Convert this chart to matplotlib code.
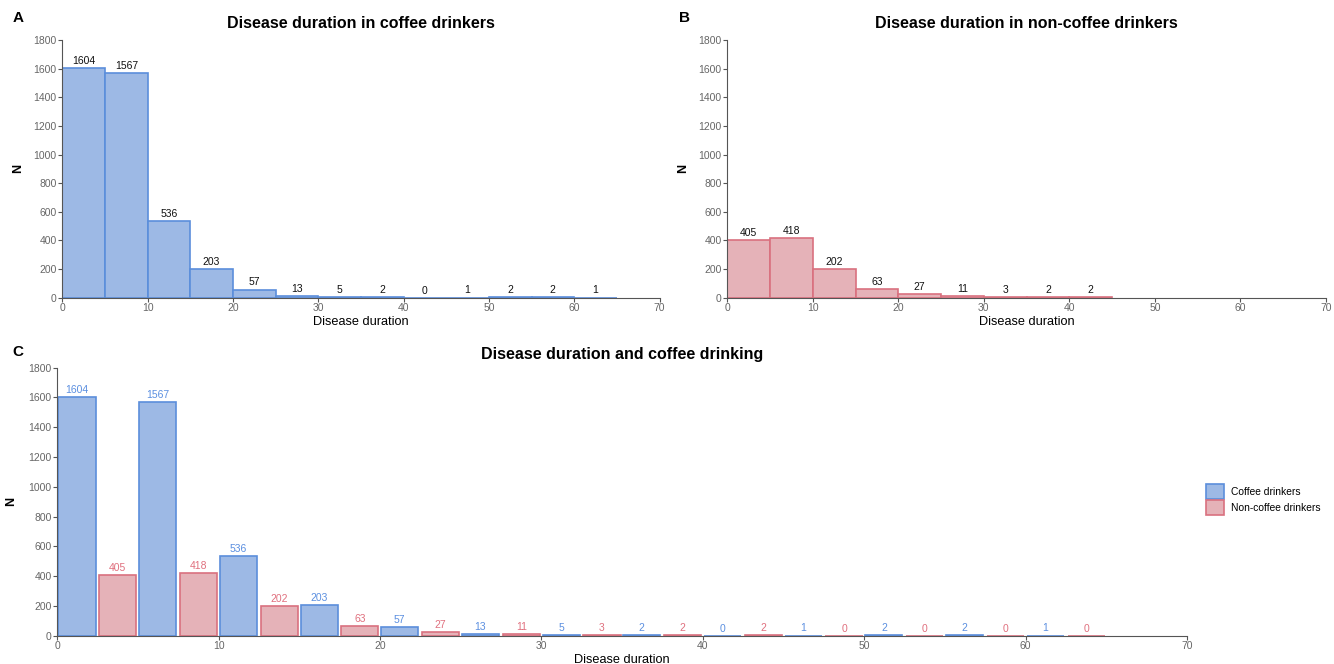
import numpy as np
import matplotlib
matplotlib.use("Agg")
import matplotlib.pyplot as plt
from matplotlib.patches import Patch

plt.rcParams['font.family'] = ['Liberation Sans', 'DejaVu Sans']

# binned counts, bin width 5 years
bin_starts = [0, 5, 10, 15, 20, 25, 30, 35, 40, 45, 50, 55, 60]
coffee = [1604, 1567, 536, 203, 57, 13, 5, 2, 0, 1, 2, 2, 1]
non_coffee = [405, 418, 202, 63, 27, 11, 3, 2, 2, 0, 0, 0, 0]
non_coffee_bins = 9  # data only reaches the 40-45 bin

BLUE_FILL = '#9db9e5'
BLUE_EDGE = '#5b8edb'
RED_FILL = '#e5b2b8'
RED_EDGE = '#d9717f'
BLUE_TXT = '#5b8fe0'
RED_TXT = '#e0707e'

TICK_FS = 7.5
VAL_FS = 7.5


def style_axes(ax, ypad=6):
    for s in ['top', 'right']:
        ax.spines[s].set_visible(False)
    for s in ['left', 'bottom']:
        ax.spines[s].set_color('#555555')
        ax.spines[s].set_linewidth(0.8)
    ax.set_xlim(0, 70)
    ax.set_ylim(0, 1800)
    ax.set_xticks(range(0, 71, 10))
    ax.set_yticks(range(0, 1801, 200))
    ax.tick_params(axis='both', labelsize=TICK_FS, colors='#555555', labelcolor='#666666',
                   length=3, width=0.8, pad=1)
    ax.set_xlabel('Disease duration', fontsize=9.2, labelpad=2)
    ax.set_ylabel('N', fontsize=9, fontweight='bold', labelpad=ypad)


fig = plt.figure(figsize=(13.34, 6.64), dpi=100)
W, H = 1334, 664


def axes_px(l, r, t, b):
    return fig.add_axes([l / W, 1 - b / H, (r - l) / W, (b - t) / H])


def hist_panel(ax, starts, counts, fill, edge, title):
    bars = ax.bar(starts, counts, width=5, align='edge', color=fill, edgecolor=edge,
                  linewidth=1.2, zorder=2)
    for b, v in zip(bars, counts):
        ax.annotate(str(v), (b.get_x() + b.get_width() / 2, v), xytext=(0, 1.5),
                    textcoords='offset points', ha='center', va='bottom',
                    fontsize=VAL_FS, color='#111111')
    style_axes(ax, ypad=7)
    ax.set_title(title, fontsize=11.5, fontweight='bold', pad=9)


# A
axA = axes_px(62.3, 659.5, 40, 297.7)
hist_panel(axA, bin_starts, coffee, BLUE_FILL, BLUE_EDGE,
           'Disease duration in coffee drinkers')

# B
axB = axes_px(727.3, 1326, 40, 297.7)
hist_panel(axB, bin_starts[:non_coffee_bins], non_coffee[:non_coffee_bins],
           RED_FILL, RED_EDGE, 'Disease duration in non-coffee drinkers')

# C: dodged bars within each bin
axC = axes_px(57.3, 1187, 367.7, 635.7)
centers = np.array(bin_starts, dtype=float)
bw = 2.3
bc = axC.bar(centers + 1.22, coffee, width=bw, color=BLUE_FILL, edgecolor=BLUE_EDGE,
             linewidth=1.2, zorder=2)
bn = axC.bar(centers + 3.75, non_coffee, width=bw, color=RED_FILL, edgecolor=RED_EDGE,
             linewidth=1.2, zorder=2)
for bars, vals, col in [(bc, coffee, BLUE_TXT), (bn, non_coffee, RED_TXT)]:
    for b, v in zip(bars, vals):
        axC.annotate(str(v), (b.get_x() + b.get_width() / 2, v), xytext=(0, 1.5),
                     textcoords='offset points', ha='center', va='bottom',
                     fontsize=VAL_FS, color=col)
style_axes(axC, ypad=8)
axC.set_title('Disease duration and coffee drinking', fontsize=11.5, fontweight='bold', pad=6)

handles = [Patch(facecolor=BLUE_FILL, edgecolor=BLUE_EDGE, linewidth=1.2, label='Coffee drinkers'),
           Patch(facecolor=RED_FILL, edgecolor=RED_EDGE, linewidth=1.2, label='Non-coffee drinkers')]
fig.legend(handles=handles, loc='upper left', bbox_to_anchor=(1206 / W, 1 - 484 / H),
           frameon=False, fontsize=7.4, handlelength=1.75, handleheight=1.9,
           handletextpad=0.7, labelspacing=0.05, borderaxespad=0, borderpad=0)

# panel letters
for letter, x, y in [('A', 18, 18), ('B', 684, 18), ('C', 18, 352)]:
    fig.text(x / W, 1 - y / H, letter, fontsize=11, fontweight='bold',
             ha='center', va='center')

fig.savefig('out.png', dpi=100, facecolor='white')
